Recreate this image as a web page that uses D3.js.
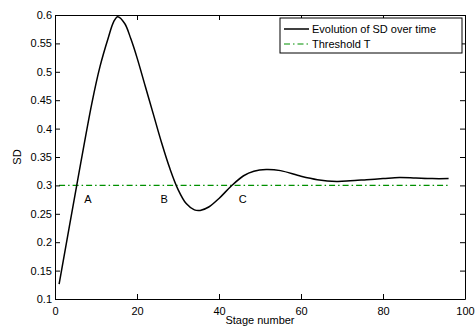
<!DOCTYPE html>
<html lang="en">
<head>
<meta charset="utf-8">
<title>Evolution of SD over time</title>
<script src="https://cdn.jsdelivr.net/npm/d3@7"></script>
<style>
    body { margin: 0; background: #fff; }
    svg text { font-family: "Liberation Sans", Arial, sans-serif; font-size: 11px; fill: #000; }
    .axis path, .axis line { stroke: #000; }
</style>
</head>
<body>
<script>
    // stage number vs SD
    const stages = [1, 5.3, 9, 11, 13, 14.3, 15.3, 17, 18.5, 20, 22, 24, 26, 28, 30, 32, 34, 35.4, 37.5,
                    40, 43, 46, 48.5, 51.5, 55, 60, 64, 68.7, 72, 76, 80, 84, 88, 92, 96];
    const sd = [0.126, 0.3, 0.445, 0.51, 0.56, 0.588, 0.597, 0.585, 0.558, 0.525, 0.475, 0.425, 0.375, 0.33, 0.293,
                0.268, 0.257, 0.256, 0.262, 0.277, 0.299, 0.317, 0.325, 0.328, 0.326, 0.316, 0.310, 0.307, 0.308, 0.310, 0.312, 0.314, 0.313, 0.312, 0.312];
    const threshold = 0.3;
    const thresholdRange = [1, 96];
    const pointLabels = [{name: "A", x: 8}, {name: "B", x: 26.6}, {name: "C", x: 45.8}];
    const xTicks = [0, 20, 40, 60, 80, 100];
    const yTicks = [0.1, 0.15, 0.2, 0.25, 0.3, 0.35, 0.4, 0.45, 0.5, 0.55, 0.6];
    const legendItems = ["Evolution of SD over time", "Threshold T"];

    const green = "#009000";
    const dim = {width: 475, height: 326, margin: {top: 15, right: 10, bottom: 27, left: 55}};

    const x = d3.scaleLinear().domain([0, 100])
        .range([dim.margin.left, dim.width - dim.margin.right]);
    const y = d3.scaleLinear().domain([0.1, 0.6])
        .range([dim.height - dim.margin.bottom, dim.margin.top]);

    const svg = d3.select("body").append("svg")
        .attr("width", dim.width)
        .attr("height", dim.height);

    // threshold
    svg.append("line")
        .attr("x1", x(thresholdRange[0])).attr("x2", x(thresholdRange[1]))
        .attr("y1", y(threshold)).attr("y2", y(threshold))
        .attr("stroke", green)
        .attr("stroke-width", 1.2)
        .attr("stroke-dasharray", "6,3,1.5,3");

    // SD curve
    const line = d3.line()
        .x(d => x(d[0]))
        .y(d => y(d[1]))
        .curve(d3.curveCatmullRom.alpha(0.5));

    svg.append("path")
        .datum(d3.zip(stages, sd))
        .attr("d", line)
        .attr("fill", "none")
        .attr("stroke", "#000")
        .attr("stroke-width", 1.5);

    // A, B, C
    svg.selectAll("text.pt")
        .data(pointLabels)
        .join("text")
        .attr("class", "pt")
        .attr("x", d => x(d.x))
        .attr("y", y(threshold) + 18)
        .attr("text-anchor", "middle")
        .text(d => d.name);

    // axes, matlab style box with ticks inward
    const h = dim.height - dim.margin.bottom, w = dim.width - dim.margin.right;
    svg.append("g").attr("class", "axis")
        .attr("transform", `translate(0,${h})`)
        .call(d3.axisBottom(x).tickValues(xTicks).tickSizeInner(-5).tickSizeOuter(0).tickPadding(8));
    svg.append("g").attr("class", "axis")
        .attr("transform", `translate(0,${dim.margin.top})`)
        .call(d3.axisTop(x).tickValues(xTicks).tickSizeInner(-5).tickSizeOuter(0).tickFormat(""));
    svg.append("g").attr("class", "axis")
        .attr("transform", `translate(${dim.margin.left},0)`)
        .call(d3.axisLeft(y).tickValues(yTicks).tickSizeInner(-5).tickSizeOuter(0).tickPadding(3).tickFormat(d3.format("")));
    svg.append("g").attr("class", "axis")
        .attr("transform", `translate(${w},0)`)
        .call(d3.axisRight(y).tickValues(yTicks).tickSizeInner(-5).tickSizeOuter(0).tickFormat(""));
    svg.selectAll(".axis text").attr("font-family", null).attr("font-size", null);

    // axis labels
    svg.append("text")
        .attr("x", (dim.margin.left + w) / 2)
        .attr("y", 324)
        .attr("text-anchor", "middle")
        .text("Stage number");
    svg.append("text")
        .attr("transform", `translate(21,${(dim.margin.top + h) / 2}) rotate(-90)`)
        .attr("text-anchor", "middle")
        .text("SD");

    // legend
    const legend = svg.append("g").attr("transform", "translate(280,18)");
    legend.append("rect")
        .attr("width", 182).attr("height", 35)
        .attr("fill", "#fff").attr("stroke", "#000");
    const rows = legend.selectAll("g.row")
        .data(legendItems)
        .join("g")
        .attr("class", "row")
        .attr("transform", (d, i) => `translate(0,${11 + i * 15})`);
    rows.append("line")
        .attr("x1", 4).attr("x2", 29)
        .attr("stroke", (d, i) => i === 0 ? "#000" : green)
        .attr("stroke-width", (d, i) => i === 0 ? 1.5 : 1.2)
        .attr("stroke-dasharray", (d, i) => i === 0 ? null : "6,3,1.5,3");
    rows.append("text")
        .attr("x", 32)
        .attr("dy", "0.35em")
        .text(d => d);
</script>
</body>
</html>
